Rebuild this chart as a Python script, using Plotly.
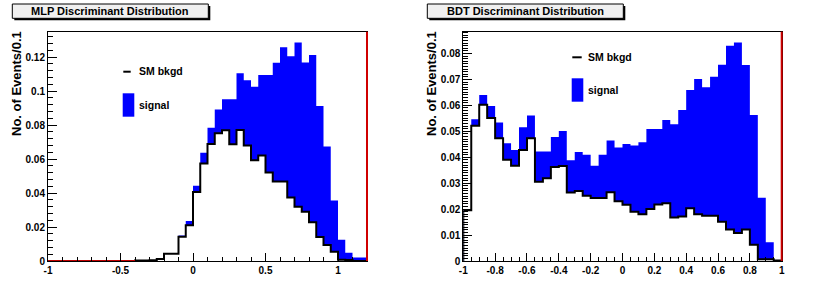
import numpy as np
import plotly.graph_objects as go

# ---------------- data ----------------
# MLP discriminant: 44 bins of width 0.05 from -1 to 1.2
mlp_bkg = [0, 0, 0, 0, 0, 0, 0, 0, 0, 0, 0, 0,
           0.0003, 0.0003, 0.0005, 0.0012, 0.0043, 0.0043, 0.0143, 0.0210,
           0.0406, 0.0574, 0.0688, 0.0751, 0.0769, 0.0687, 0.0770, 0.0680,
           0.0593, 0.0620, 0.0520, 0.0468, 0.0468, 0.0373, 0.0319, 0.0290,
           0.0228, 0.0141, 0.0094, 0.0054, 0.0008, 0.0006, 0.0, 0.0]
mlp_total = [0, 0, 0, 0, 0, 0, 0, 0, 0, 0, 0, 0,
             0.0003, 0.0004, 0.0006, 0.0014, 0.0046, 0.0046, 0.0150, 0.0236,
             0.0443, 0.0637, 0.0784, 0.0891, 0.0952, 0.0952, 0.1104, 0.1063,
             0.1025, 0.1094, 0.1094, 0.1166, 0.1257, 0.1204, 0.1285, 0.1168,
             0.1212, 0.0912, 0.0673, 0.0356, 0.0125, 0.0049, 0.0020, 0.0020]

# BDT discriminant: 40 bins of width 0.05 from -1 to 1
bdt_bkg = [0.0196, 0.0521, 0.0602, 0.0551, 0.0473, 0.0390, 0.0367, 0.0428,
           0.0473, 0.0306, 0.0319, 0.0362, 0.0366, 0.0264, 0.0270, 0.0252,
           0.0243, 0.0243, 0.0265, 0.0230, 0.0217, 0.0190, 0.0180, 0.0200,
           0.0218, 0.0223, 0.0168, 0.0172, 0.0203, 0.0180, 0.0174, 0.0174,
           0.0151, 0.0121, 0.0108, 0.0121, 0.0063, 0.0007, 0.0007, 0.0002]
bdt_total = [0.0200, 0.0546, 0.0640, 0.0598, 0.0534, 0.0454, 0.0428, 0.0516,
             0.0561, 0.0422, 0.0422, 0.0478, 0.0501, 0.0388, 0.0420, 0.0410,
             0.0367, 0.0410, 0.0465, 0.0438, 0.0451, 0.0445, 0.0458, 0.0509,
             0.0509, 0.0544, 0.0527, 0.0582, 0.0659, 0.0702, 0.0670, 0.0710,
             0.0757, 0.0830, 0.0842, 0.0756, 0.0563, 0.0244, 0.0072, 0.0004]

mlp_range = [-1.0, 1.2]
bdt_range = [-1.0, 1.0]
mlp_yrange = [0, 0.1349]
bdt_yrange = [0, 0.0884]

titles = ["MLP Discriminant Distribution", "BDT Discriminant Distribution"]
ytitle = "No. of Events/0.1"
legend_labels = ["SM bkgd", "signal"]

mlp_xtickvals = [-1, -0.5, 0, 0.5, 1]
mlp_xticktext = ["-1", "-0.5", "0", "0.5", "1"]
mlp_ytickvals = [0, 0.02, 0.04, 0.06, 0.08, 0.1, 0.12]
mlp_yticktext = ["0", "0.02", "0.04", "0.06", "0.08", "0.1", "0.12"]
bdt_xtickvals = [-1, -0.8, -0.6, -0.4, -0.2, 0, 0.2, 0.4, 0.6, 0.8, 1]
bdt_xticktext = ["-1", "-0.8", "-0.6", "-0.4", "-0.2", "0", "0.2", "0.4", "0.6", "0.8", "1"]
bdt_ytickvals = [0, 0.01, 0.02, 0.03, 0.04, 0.05, 0.06, 0.07, 0.08]
bdt_yticktext = ["0", "0.01", "0.02", "0.03", "0.04", "0.05", "0.06", "0.07", "0.08"]

# ---------------- helpers ----------------
W, H = 830, 293
def PX(x):
    return x / W
def PY(y):
    return 1 - y / H

BLUE = "#0000ff"
FONT = "Liberation Sans, Arial, Helvetica, sans-serif"


def step_xy(edges, vals):
    vals = np.asarray(vals, dtype=float)
    xs = np.concatenate([[edges[0]], edges, [edges[-1]]])
    ys = np.concatenate([[0.0], vals, [vals[-1]], [0.0]])
    return xs, ys


fig = go.Figure()

panels = [
    dict(bkg=mlp_bkg, tot=mlp_total, rng=mlp_range, yr=mlp_yrange, xa="x", ya="y",
         xtv=mlp_xtickvals, xtt=mlp_xticktext, ytv=mlp_ytickvals, ytt=mlp_yticktext,
         xminor=0.1, yminor=0.004, dom=[PX(48), PX(367)], off=0),
    dict(bkg=bdt_bkg, tot=bdt_total, rng=bdt_range, yr=bdt_yrange, xa="x2", ya="y2",
         xtv=bdt_xtickvals, xtt=bdt_xticktext, ytv=bdt_ytickvals, ytt=bdt_yticktext,
         xminor=0.05, yminor=0.001, dom=[PX(463.3), PX(781.7)], off=415),
]

shapes = []
annotations = []

for i, p in enumerate(panels):
    n = len(p["bkg"])
    edges = np.linspace(p["rng"][0], p["rng"][1], n + 1)
    tx, ty = step_xy(edges, p["tot"])
    bx, by = step_xy(edges, p["bkg"])
    fig.add_trace(go.Scatter(x=tx, y=ty, mode="lines", line=dict(width=0, shape="hv", color=BLUE),
                             fill="tozeroy", fillcolor=BLUE, xaxis=p["xa"], yaxis=p["ya"],
                             showlegend=False, hoverinfo="skip"))
    fig.add_trace(go.Scatter(x=bx, y=by, mode="lines", line=dict(width=2, shape="hv", color="black"),
                             fill="tozeroy", fillcolor="white", xaxis=p["xa"], yaxis=p["ya"],
                             showlegend=False, hoverinfo="skip"))
    # red zero-line where background is empty at the start
    bk = np.asarray(p["bkg"])
    nz = np.nonzero(bk)[0]
    first = nz[0] if len(nz) else n
    if first > 0:
        fig.add_trace(go.Scatter(x=[edges[0], edges[first]], y=[0, 0], mode="lines",
                                 line=dict(width=2, color="#c00000"), xaxis=p["xa"], yaxis=p["ya"],
                                 showlegend=False, hoverinfo="skip", cliponaxis=False))
    ax_common = dict(showline=True, linecolor="black", linewidth=1, mirror=True,
                     ticks="inside", tickcolor="black", showgrid=False, zeroline=False,
                     automargin=False,
                     tickfont=dict(family=FONT, size=10, color="black", weight="bold"))
    xkey = "xaxis" if i == 0 else "xaxis2"
    ykey = "yaxis" if i == 0 else "yaxis2"
    fig.update_layout(**{
        xkey: dict(domain=p["dom"], range=p["rng"], anchor=p["ya"], tickmode="array",
                   tickvals=p["xtv"], ticktext=p["xtt"], ticklen=8,
                   minor=dict(ticks="inside", ticklen=4, tickcolor="black",
                              tickmode="linear", tick0=p["rng"][0], dtick=p["xminor"]),
                   **ax_common),
        ykey: dict(domain=[PY(261), PY(31.7)], range=p["yr"], anchor=p["xa"], tickmode="array",
                   tickvals=p["ytv"], ticktext=p["ytt"], ticklen=9,
                   minor=dict(ticks="inside", ticklen=5, tickcolor="black",
                              tickmode="linear", tick0=0, dtick=p["yminor"]),
                   **ax_common),
    })
    # red vertical line at right frame edge
    shapes.append(dict(type="line", xref=f"{p['xa']} domain", yref=f"{p['ya']} domain",
                       x0=1, x1=1, y0=0, y1=1, line=dict(color="#d00000", width=2)))
    off = p["off"]
    # title box with shadow
    shapes.append(dict(type="rect", xref="paper", yref="paper",
                       x0=PX(off + 14.3), x1=PX(off + 210.3), y0=PY(20.3), y1=PY(6),
                       line=dict(width=0), fillcolor="black"))
    shapes.append(dict(type="rect", xref="paper", yref="paper",
                       x0=PX(off + 12.3), x1=PX(off + 208.3), y0=PY(18.3), y1=PY(4),
                       line=dict(width=1, color="black"), fillcolor="#f0f0f0"))
    annotations.append(dict(xref="paper", yref="paper", x=PX(off + 110), y=PY(11.4),
                            text=titles[i], showarrow=False, xanchor="center", yanchor="middle",
                            font=dict(family=FONT, size=11, color="black", weight="bold")))
    # y axis title
    annotations.append(dict(xref="paper", yref="paper", x=PX(off + 16.5), y=PY(83.5),
                            text=ytitle, textangle=-90, showarrow=False,
                            xanchor="center", yanchor="middle",
                            font=dict(family=FONT, size=13, color="black", weight="bold")))

# legends
leg = [dict(lx0=123.3, lx1=130.7, ly=71.7, bx0=122.7, bx1=134.3, by0=93.3, by1=116.7,
            tx=136.5, ty1=71.5, ty2=104.5),
       dict(lx0=572.3, lx1=581.7, ly=57.3, bx0=571.7, bx1=583.3, by0=78.3, by1=101.7,
            tx=585.5, ty1=57.3, ty2=90)]
for L in leg:
    shapes.append(dict(type="line", xref="paper", yref="paper", x0=PX(L["lx0"]), x1=PX(L["lx1"]),
                       y0=PY(L["ly"]), y1=PY(L["ly"]), line=dict(color="black", width=2)))
    shapes.append(dict(type="rect", xref="paper", yref="paper", x0=PX(L["bx0"]), x1=PX(L["bx1"]),
                       y0=PY(L["by1"]), y1=PY(L["by0"]), line=dict(width=0), fillcolor=BLUE))
    annotations.append(dict(xref="paper", yref="paper", x=PX(L["tx"]), y=PY(L["ty1"]),
                            text=legend_labels[0], showarrow=False, xanchor="left", yanchor="middle",
                            font=dict(family=FONT, size=10.5, color="black", weight="bold")))
    annotations.append(dict(xref="paper", yref="paper", x=PX(L["tx"]), y=PY(L["ty2"]),
                            text=legend_labels[1], showarrow=False, xanchor="left", yanchor="middle",
                            font=dict(family=FONT, size=10.5, color="black", weight="bold")))

fig.update_layout(template="none", width=W, height=H, margin=dict(l=0, r=0, t=0, b=0, pad=0),
                  paper_bgcolor="white", plot_bgcolor="white",
                  shapes=shapes, annotations=annotations, showlegend=False)

fig.write_html("out.html", config={"displayModeBar": False},
               post_script="document.body.style.margin='0px';document.body.style.padding='0px';"
                           "document.documentElement.style.overflow='hidden';")
